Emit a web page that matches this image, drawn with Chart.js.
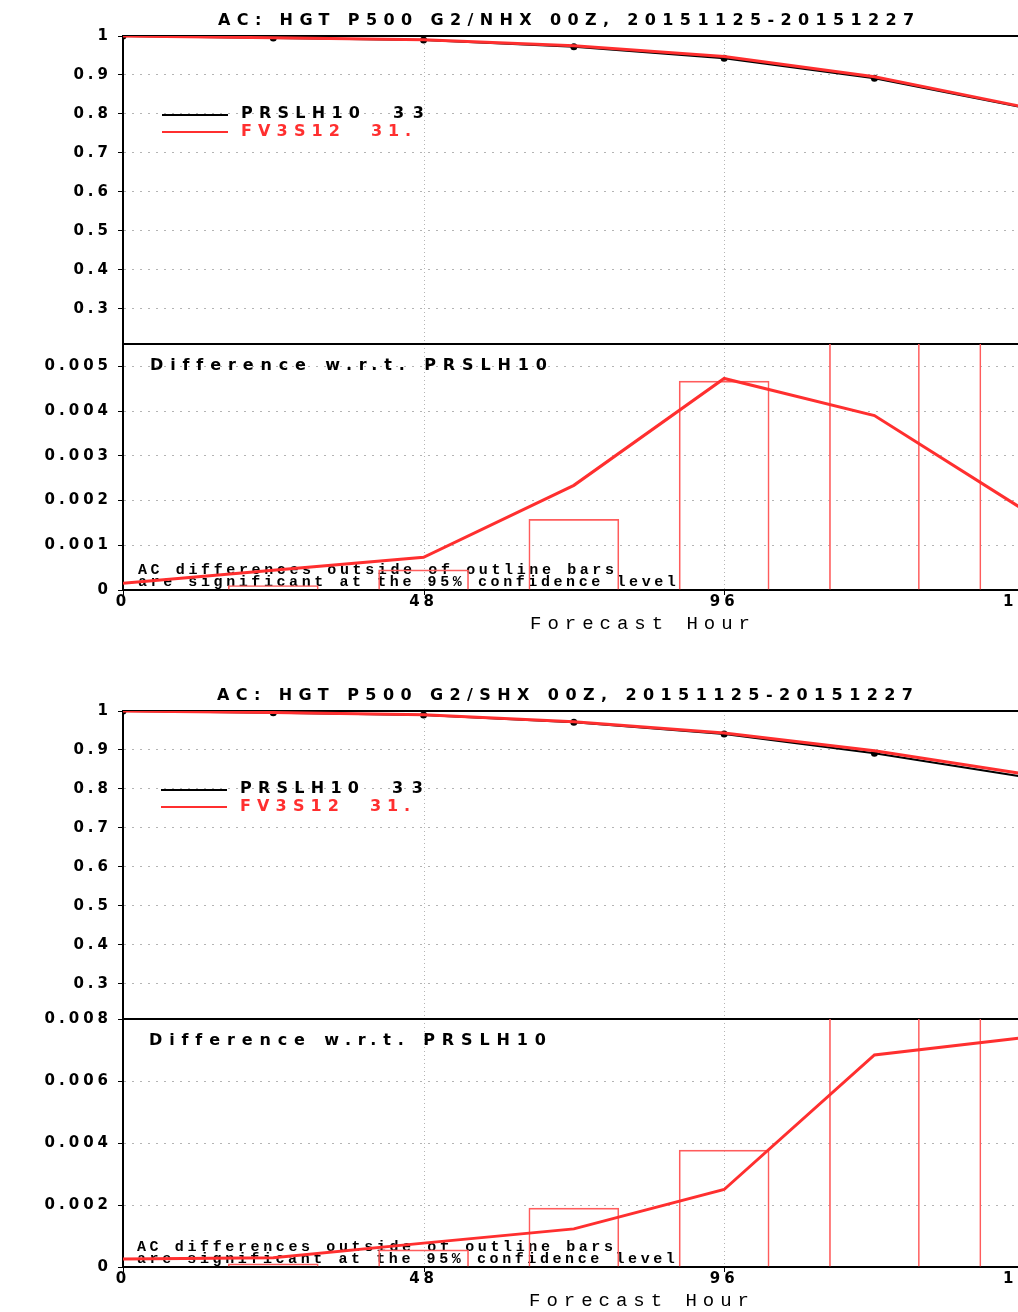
<!DOCTYPE html>
<html>
<head>
<meta charset="utf-8">
<script src="https://cdn.jsdelivr.net/npm/chart.js@4.4.1/dist/chart.umd.min.js"></script>
<style>
  html, body { margin: 0; padding: 0; background: #fff; overflow: hidden; width: 1018px; height: 1312px; }
  canvas { position: absolute; left: 0; }
</style>
</head>
<body>
<canvas id="nhxAc"></canvas>
<canvas id="nhxDiff"></canvas>
<canvas id="shxAc"></canvas>
<canvas id="shxDiff"></canvas>
<script>
// ---- data ----
const hours = [0, 24, 48, 72, 96, 120, 144];
const hourTicks = [0, 48, 96, 144];
const seriesNames = ['PRSLH10', 'FV3S12'];
const legendNotes = ['33', '31.'];

const nhxTitle = 'AC: HGT P500 G2/NHX 00Z, 20151125-20151227';
const nhxPrslh10 = [1.0, 0.995, 0.9897, 0.9726, 0.9428, 0.8915, 0.8157];
const nhxFv3s12  = [1.0, 0.9954, 0.9904, 0.9749, 0.9475, 0.8954, 0.8175];
const nhxDiff    = [0.00015, 0.00044, 0.00073, 0.00234, 0.00473, 0.0039, 0.00178];
const nhxSignif  = [null, 0.0001, 0.00045, 0.00158, 0.00467, 0.0068, 0.0088];

const shxTitle = 'AC: HGT P500 G2/SHX 00Z, 20151125-20151227';
const shxPrslh10 = [1.0, 0.9957, 0.9897, 0.971, 0.941, 0.8915, 0.831];
const shxFv3s12  = [1.0, 0.996, 0.9905, 0.9722, 0.9435, 0.8983, 0.8384];
const shxDiff    = [0.00026, 0.0003, 0.00077, 0.00123, 0.0025, 0.00684, 0.0074];
const shxSignif  = [null, 0.0001, 0.00055, 0.0019, 0.00377, 0.0095, 0.0115];

const diffLabel = 'Difference w.r.t. PRSLH10';
const noteLines = ['AC differences outside of outline bars', 'are significant at the 95% confidence level'];
const xAxisTitle = 'Forecast Hour';

// ---- styles ----
const RED = '#ff2f2f';
const BAR_RED = '#ff5c5c';
const GRID = '#b4b4b4';
const NONE = 'rgba(0,0,0,0)';
const CANVAS_W = 1190;
const AXIS_W = 123;
const TICK_FONT = { family: 'DejaVu Sans', size: 15, weight: 'bold', lineHeight: 1 };
const BOLD = 'bold 16px "DejaVu Sans"';
const NOTE = 'bold 15px "Liberation Mono"';
const AXTITLE = '19px "Liberation Mono"';

const pts = (vals) => hours.map((h, i) => ({ x: h, y: vals[i] })).filter(p => p.y !== null);

function fitText(ctx, t, dy) {
  ctx.save();
  ctx.font = t.font;
  ctx.letterSpacing = '0px';
  const w = ctx.measureText(t.text).width;
  const s = t.text.length > 1 ? (t.x1 - t.x0 - w) / (t.text.length - 1) : 0;
  ctx.letterSpacing = s.toFixed(2) + 'px';
  ctx.fillStyle = t.color || '#000';
  ctx.textAlign = 'left';
  ctx.textBaseline = 'middle';
  ctx.fillText(t.text, t.x0, t.y - dy + 2);
  ctx.restore();
}

function line(ctx, x0, y0, x1, y1, color, width, dash) {
  ctx.save();
  ctx.setLineDash(dash || []);
  ctx.strokeStyle = color;
  ctx.lineWidth = width;
  ctx.beginPath();
  ctx.moveTo(x0, y0);
  ctx.lineTo(x1, y1);
  ctx.stroke();
  ctx.restore();
}

// Frame edge, hour grid, legend and annotation text
const decor = {
  id: 'decor',
  beforeDraw(chart) {
    chart.ctx.letterSpacing = '4px';
  },
  beforeDatasetsDraw(chart, args, opts) {
    const { ctx, chartArea: a, scales } = chart;
    hourTicks.forEach(h => {
      const x = Math.round(scales.x.getPixelForValue(h)) + 0.5;
      if (h > 0) line(ctx, x, a.top, x, a.bottom, GRID, 1, [1, 3]);
      if (opts.hourMarks) line(ctx, x, a.bottom, x, a.bottom + 5, '#000', 1);
    });
    line(ctx, a.left - 1, a.top, a.right, a.top, '#000', 2);
    (opts.under || []).forEach(t => fitText(ctx, t, opts.dy));
  },
  afterDraw(chart, args, opts) {
    const ctx = chart.ctx;
    (opts.over || []).forEach(t => fitText(ctx, t, opts.dy));
    if (opts.legend) {
      const L = opts.legend;
      chart.data.datasets.forEach((ds, i) => {
        const y = L.lineY[i] - opts.dy;
        line(ctx, L.lineX0, y, L.lineX1, y, ds.borderColor, 2);
        fitText(ctx, { text: ds.label, x0: L.textX0, x1: L.labelX1[i], y: L.textY[i], font: BOLD, color: ds.borderColor }, opts.dy);
        fitText(ctx, { text: legendNotes[i], x0: L.noteX0[i], x1: L.noteX1[i], y: L.textY[i], font: BOLD, color: ds.borderColor }, opts.dy);
      });
    }
    ctx.letterSpacing = '0px';
  }
};

function xScale(showLabels, height, showBorder) {
  return {
    type: 'linear', min: 0, max: 168, offset: false,
    afterBuildTicks(s) { s.ticks = hourTicks.map(v => ({ value: v })); },
    ticks: { display: showLabels, padding: 1, color: '#000', font: TICK_FONT, maxRotation: 0, autoSkip: false },
    grid: { color: NONE, tickColor: NONE, lineWidth: 1, drawTicks: showLabels, tickLength: 4 },
    border: { display: showBorder, color: '#000', width: 2 },
    afterFit(s) { s.height = height; s.paddingLeft = 0; s.paddingRight = 0; }
  };
}

function yScale(min, max, step, fmt) {
  return {
    min, max,
    ticks: { stepSize: step, includeBounds: false, padding: 6, color: '#000', font: TICK_FONT, callback: fmt },
    grid: { color: GRID, lineWidth: 1, tickLength: 5, tickColor: '#000' },
    border: { display: true, color: '#000', width: 2, dash: [2, 6] },
    afterFit(s) { s.width = AXIS_W; s.paddingTop = 0; s.paddingBottom = 0; }
  };
}

const baseOpts = { responsive: false, animation: false, devicePixelRatio: 1, events: [] };

function setCanvas(id, top, height) {
  const c = document.getElementById(id);
  c.width = CANVAS_W; c.height = height;
  c.style.top = top + 'px';
  c.style.width = CANVAS_W + 'px'; c.style.height = height + 'px';
  return c;
}

function buildPanel(p) {
  const dx = p.dx;
  // upper part: anomaly correlation
  const acH = p.divider - p.top;
  new Chart(setCanvas(p.acId, p.top, acH), {
    type: 'line',
    data: {
      datasets: [
        { label: seriesNames[0], data: pts(p.ac[0]), borderColor: '#000', backgroundColor: '#000',
          borderWidth: 2, pointRadius: 3.5, pointBorderWidth: 0, tension: 0, order: 2 },
        { label: seriesNames[1], data: pts(p.ac[1]), borderColor: RED, backgroundColor: RED,
          borderWidth: 3, pointRadius: 0, tension: 0, order: 1 }
      ]
    },
    options: {
      ...baseOpts,
      layout: { autoPadding: false, padding: { top: p.acTop - p.top, bottom: 0, left: 0, right: 15 } },
      plugins: {
        legend: { display: false }, tooltip: { enabled: false },
        decor: {
          dy: p.top,
          over: [{ text: p.title, x0: 218 + dx, x1: 914 + dx, y: p.acTop - 17, font: BOLD }],
          legend: {
            lineX0: 162 + dx, lineX1: 228 + dx, lineY: [p.acTop + 79, p.acTop + 96],
            textX0: 241 + dx, labelX1: [360 + dx, 340 + dx], textY: [p.acTop + 76, p.acTop + 94],
            noteX0: [393 + dx, 371 + dx], noteX1: [424 + dx, 411 + dx]
          }
        }
      },
      scales: {
        x: xScale(false, 0, false),
        y: yScale(0.21, 1, 0.1, v => String(Math.round(v * 10) / 10))
      }
    },
    plugins: [decor]
  });

  // lower part: difference with significance bars
  const dTop = p.divider - 12;
  const dH = p.base - dTop + 50;
  new Chart(setCanvas(p.diffId, dTop, dH), {
    type: 'line',
    data: {
      datasets: [
        { type: 'line', label: 'diff', data: pts(p.diff), borderColor: RED, borderWidth: 3,
          pointRadius: 0, tension: 0, order: 1 },
        { type: 'bar', label: 'signif', data: pts(p.signif), backgroundColor: NONE,
          borderColor: BAR_RED, borderWidth: 1, barThickness: 90, borderSkipped: 'start', order: 2 }
      ]
    },
    options: {
      ...baseOpts,
      layout: { autoPadding: false, padding: { top: 12, bottom: 0, left: 0, right: 15 } },
      plugins: {
        legend: { display: false }, tooltip: { enabled: false },
        decor: {
          dy: dTop, hourMarks: true,
          under: [
            { text: noteLines[0], x0: 138 + dx, x1: 614 + dx, y: p.base - 21.5, font: NOTE },
            { text: noteLines[1], x0: 138 + dx, x1: 676 + dx, y: p.base - 9.5, font: NOTE }
          ],
          over: [
            { text: diffLabel, x0: 150 + dx, x1: 546 + dx, y: p.divider + 20, font: BOLD },
            { text: xAxisTitle, x0: 530 + dx, x1: 750 + dx, y: p.base + 32, font: AXTITLE }
          ]
        }
      },
      scales: {
        x: xScale(true, 50, true),
        y: yScale(0, p.diffMax, p.diffStep, v => v === 0 ? '0' : v.toFixed(3))
      }
    },
    plugins: [decor]
  });
}

buildPanel({ acId: 'nhxAc', diffId: 'nhxDiff', title: nhxTitle, ac: [nhxPrslh10, nhxFv3s12],
  diff: nhxDiff, signif: nhxSignif, diffMax: 0.0055, diffStep: 0.001,
  top: 0, acTop: 36, divider: 344, base: 590, dx: 0 });
buildPanel({ acId: 'shxAc', diffId: 'shxDiff', title: shxTitle, ac: [shxPrslh10, shxFv3s12],
  diff: shxDiff, signif: shxSignif, diffMax: 0.008, diffStep: 0.002,
  top: 675, acTop: 711, divider: 1019, base: 1267, dx: -1 });
</script>
</body>
</html>
